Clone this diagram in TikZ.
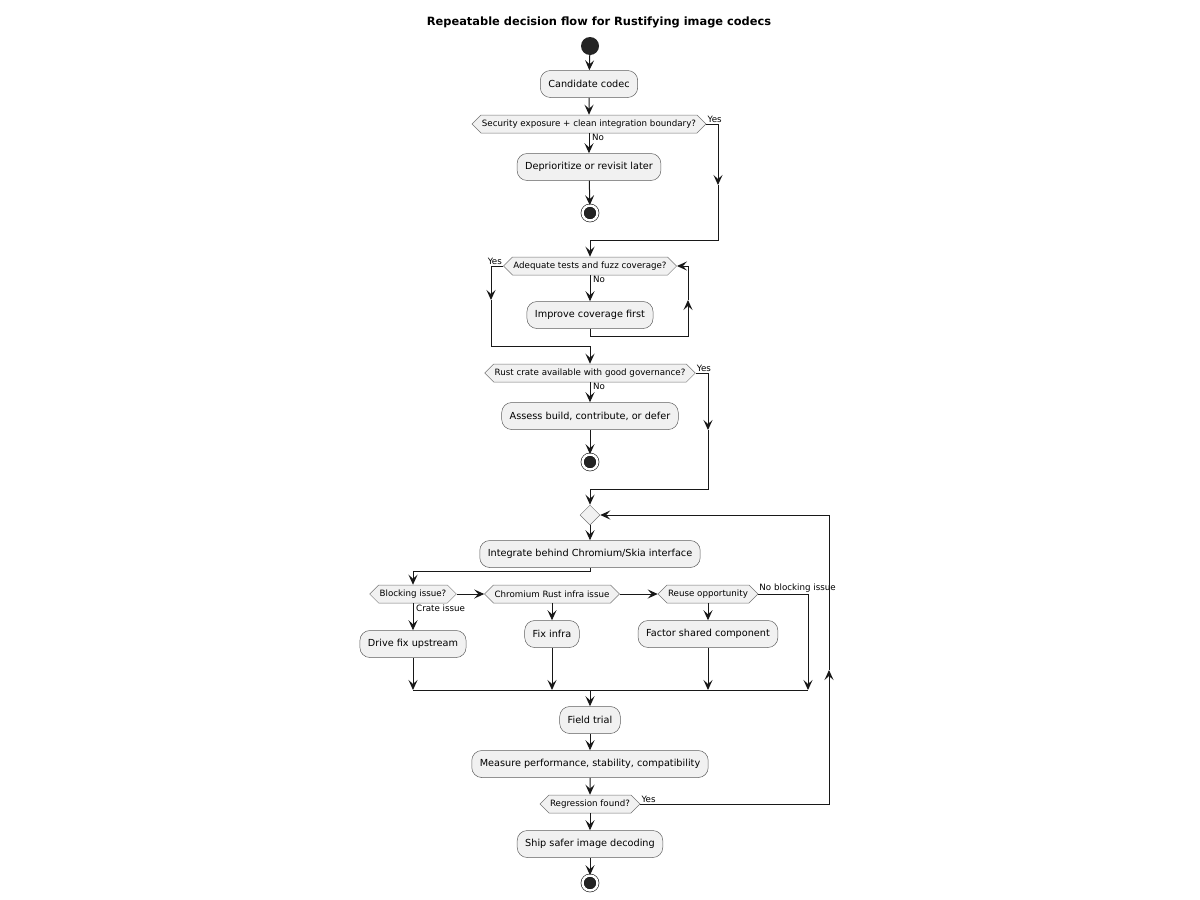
\documentclass[tikz,border=0pt]{standalone}
\usepackage{fontspec}
\setmainfont{DejaVu Sans}
\usetikzlibrary{arrows.meta,shapes.geometric,shapes.symbols}
\definecolor{umlfill}{HTML}{F1F1F1}
\definecolor{umlline}{HTML}{181818}
\tikzset{
    action/.style={rectangle, rounded corners=10pt, draw=umlline!70, line width=0.5pt,
        fill=umlfill, minimum height=27pt, inner xsep=8pt, font=\fontsize{9.7}{11}\selectfont},
    choice/.style={signal, signal to=east and west, draw=umlline!60, line width=0.5pt,
        fill=umlfill, minimum height=18pt, inner xsep=1pt, inner ysep=0pt,
        font=\fontsize{8.7}{10}\selectfont},
    merge/.style={diamond, draw=umlline!60, line width=0.5pt, fill=umlfill,
        minimum size=20pt, inner sep=0pt},
    startnode/.style={circle, fill=umlline!95, minimum size=18pt, inner sep=0pt},
    stopnode/.style={circle, fill=umlline!95, draw=umlline, line width=0.6pt,
        double=white, double distance=2.4pt, minimum size=15pt, inner sep=0pt},
    wire/.style={draw=umlline, line width=1pt},
    flow/.style={wire, -{Stealth[length=10pt, width=9pt, inset=4pt]}},
    tag/.style={font=\fontsize{8.7}{10}\selectfont, inner sep=1pt}
}
\begin{document}
\begin{tikzpicture}[x=1pt,y=-1pt]
    \useasboundingbox (0,0) rectangle (1200,900);
    % title
    \node[font=\fontsize{11.4}{13}\selectfont\bfseries] (title) at (599,22)
        {Repeatable decision flow for Rustifying image codecs};
    % first checks
    \node[startnode] (start) at (590,46) {};
    \node[action] (cand) at (589,84) {Candidate codec};
    \node[choice] (sec) at (589,124) {Security exposure + clean integration boundary?};
    \node[action] (depr) at (589,167) {Deprioritize or revisit later};
    \node[stopnode] (stop1) at (590,213) {};
    \coordinate (yes1) at (718,185);
    \coordinate (m1) at (590,240);
    \node[choice] (cov) at (590,266) {Adequate tests and fuzz coverage?};
    \node[action] (impr) at (590,315) {Improve coverage first};
    \coordinate (yes2) at (491,300);
    \coordinate (loop2) at (688,300);
    \coordinate (m2) at (590,346);
    \node[choice] (crate) at (590,373) {Rust crate available with good governance?};
    \node[action] (assess) at (590,416) {Assess build, contribute, or defer};
    \node[stopnode] (stop2) at (590,462) {};
    \coordinate (yes3) at (708,430);
    \coordinate (m3) at (590,489);
    % integration loop
    \node[merge] (join) at (590,515) {};
    \node[action] (integ) at (590,554) {Integrate behind Chromium/Skia interface};
    \node[choice] (block) at (413,594) {Blocking issue?};
    \node[choice] (infra) at (552,594) {Chromium Rust infra issue};
    \node[choice] (reuse) at (708,594) {Reuse opportunity};
    \node[action] (drive) at (413,644) {Drive fix upstream};
    \node[action] (fixinfra) at (552,634) {Fix infra};
    \node[action] (factor) at (708,634) {Factor shared component};
    \coordinate (e1) at (413,690);
    \coordinate (e2) at (552,690);
    \coordinate (e3) at (708,690);
    \coordinate (e4) at (808,690);
    \coordinate (m4) at (590,690);
    \node[action] (trial) at (590,720) {Field trial};
    \node[action] (measure) at (590,764) {Measure performance, stability, compatibility};
    \node[choice] (regr) at (590,804) {Regression found?};
    \coordinate (back) at (829,670);
    \node[action] (ship) at (590,844) {Ship safer image decoding};
    \node[stopnode] (stop3) at (590,883) {};

    \draw[flow] (start) -- (cand);
    \draw[flow] (cand) -- (sec);
    \draw[flow] (sec.south) -- (depr);
    \draw[flow] (depr) -- (stop1);
    \draw[flow] (sec.east) -| (yes1);
    \draw[wire] (yes1) |- (m1);
    \draw[flow] (m1) -- (cov.north);
    \node[tag, anchor=south west] at (sec.east) {Yes};
    \node[tag, anchor=north west] at ([xshift=2pt]sec.south) {No};

    \draw[flow] (cov.south) -- (impr);
    \draw[flow] (impr.south) -- ++(0,8) -| (loop2);
    \draw[flow] (loop2) |- (cov.east);
    \draw[flow] (cov.west) -| (yes2);
    \draw[wire] (yes2) |- (m2);
    \draw[flow] (m2) -- (crate.north);
    \node[tag, anchor=south east] at (cov.west) {Yes};
    \node[tag, anchor=north west] at ([xshift=2pt]cov.south) {No};

    \draw[flow] (crate.south) -- (assess);
    \draw[flow] (assess) -- (stop2);
    \draw[flow] (crate.east) -| (yes3);
    \draw[wire] (yes3) |- (m3);
    \draw[flow] (m3) -- (join.north);
    \node[tag, anchor=south west] at (crate.east) {Yes};
    \node[tag, anchor=north west] at ([xshift=2pt]crate.south) {No};

    \draw[flow] (join) -- (integ);
    \draw[flow] (integ.south) -- ++(0,4) -| (block.north);
    \draw[flow] (block.east) -- (infra.west);
    \draw[flow] (infra.east) -- (reuse.west);
    \draw[flow] (reuse.east) -| (e4);
    \node[tag, anchor=south west] at (reuse.east) {No blocking issue};
    \draw[flow] (block.south) -- (drive);
    \node[tag, anchor=north west] at ([xshift=2pt]block.south) {Crate issue};
    \draw[flow] (infra.south) -- (fixinfra);
    \draw[flow] (reuse.south) -- (factor);
    \draw[flow] (drive) -- (e1);
    \draw[flow] (fixinfra) -- (e2);
    \draw[flow] (factor) -- (e3);
    \draw[wire] (e1) -- (e4);
    \draw[flow] (m4) -- (trial);
    \draw[flow] (trial) -- (measure);
    \draw[flow] (measure) -- (regr);
    \draw[flow] (regr.east) -| (back);
    \draw[flow] (back) |- (join.east);
    \node[tag, anchor=south west] at (regr.east) {Yes};
    \draw[flow] (regr.south) -- (ship);
    \draw[flow] (ship) -- (stop3);
\end{tikzpicture}
\end{document}
